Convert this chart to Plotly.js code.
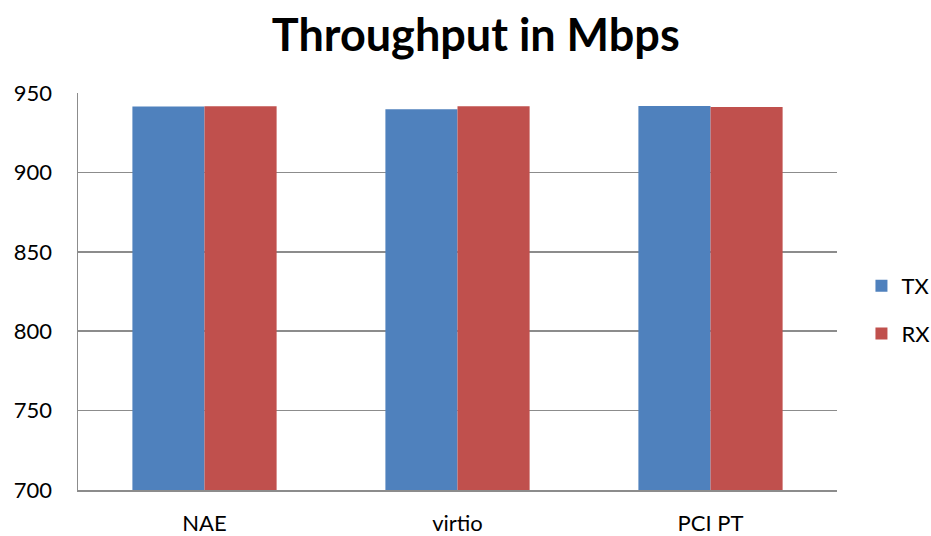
<!DOCTYPE html>
<html>
<head>
<meta charset="utf-8">
<script src="https://cdn.plot.ly/plotly-3.0.1.min.js"></script>
<style>
  html, body { margin: 0; padding: 0; background: #fff; }
  #chart { width: 931px; height: 536px; }
</style>
</head>
<body>
<div id="chart"></div>
<script>
// Measured throughput per networking mode
const categories = ["NAE", "virtio", "PCI PT"];
const txValues = [941.5, 939.8, 941.8];
const rxValues = [941.7, 941.7, 941.2];
const yTicks = [700, 750, 800, 850, 900, 950];

const font = "Lato, 'Open Sans', sans-serif";
const gridColor = "#8c8c8c";

const traces = [
  {
    type: "bar", name: "TX", x: categories, y: txValues,
    marker: { color: "#4F81BD", line: { width: 0 } },
    legendgroup: "tx", hoverinfo: "y"
  },
  {
    type: "bar", name: "RX", x: categories, y: rxValues,
    marker: { color: "#C0504D", line: { width: 0 } },
    legendgroup: "rx", hoverinfo: "y"
  }
];

const layout = {
  width: 931, height: 536,
  paper_bgcolor: "#fff", plot_bgcolor: "#fff",
  margin: { l: 78, r: 94, t: 93, b: 46, pad: 0, autoexpand: false },
  font: { family: font, color: "#000", size: 22 },
  title: {
    text: "<b>Throughput in Mbps</b>",
    font: { family: font, size: 45, color: "#000" },
    x: 0.511, xanchor: "center", y: 0.935, yanchor: "middle"
  },
  barmode: "group",
  bargap: 0.43,
  bargroupgap: 0,
  showlegend: true,
  legend: {
    xref: "container", yref: "container",
    x: 0.9253, xanchor: "left", y: 0.4216, yanchor: "middle",
    font: { family: font, size: 22, color: "#000" },
    traceorder: "grouped", tracegroupgap: 16,
    bgcolor: "rgba(0,0,0,0)"
  },
  xaxis: {
    type: "category",
    showgrid: false, zeroline: false,
    showline: true, linecolor: gridColor, linewidth: 1.5,
    ticks: "", ticklabelstandoff: 13,
    tickfont: { family: font, size: 22 }
  },
  yaxis: {
    range: [700, 950],
    tickvals: yTicks,
    ticktext: yTicks.map(String),
    showgrid: true, gridcolor: gridColor, gridwidth: 1.5,
    zeroline: false,
    showline: true, linecolor: gridColor, linewidth: 1.5,
    ticks: "", ticklabelstandoff: 20,
    tickfont: { family: font, size: 22 }
  }
};

Plotly.newPlot("chart", traces, layout, { displayModeBar: false, staticPlot: true });
</script>
</body>
</html>
